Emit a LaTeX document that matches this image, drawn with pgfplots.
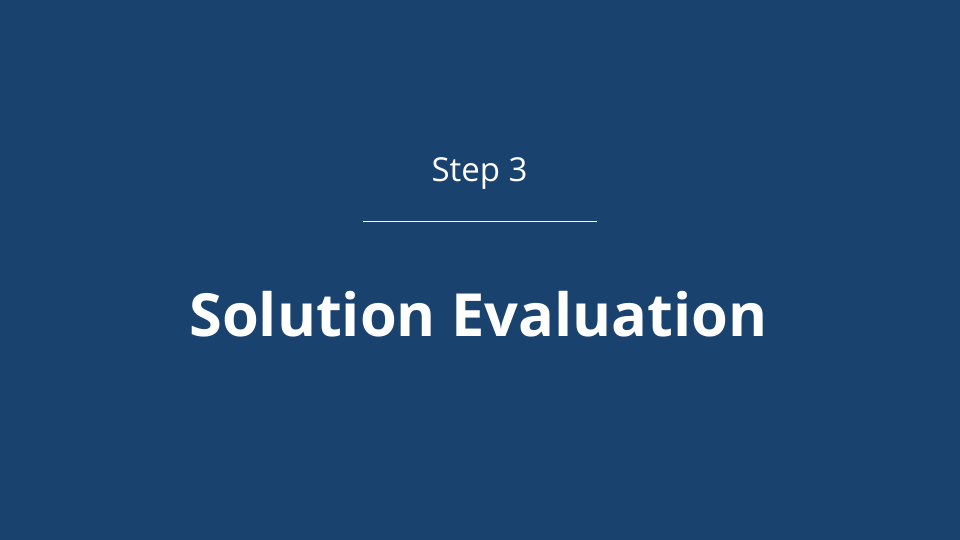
\documentclass[border=0pt]{standalone}
\usepackage{fontspec}
\setmainfont{Open Sans}
\usepackage{pgfplots}
\pgfplotsset{compat=1.18}
\definecolor{bg}{HTML}{1A426E}
\begin{document}
\begin{tikzpicture}
\fill[bg] (0,0) rectangle (960pt,540pt);
\begin{axis}[
  at={(0,0)}, anchor=south west,
  scale only axis, width=960pt, height=540pt,
  xmin=0, xmax=960, ymin=0, ymax=540,
  axis lines=none, ticks=none,
  clip=false,
]
\addplot[white, line width=1pt, mark=none] coordinates {(363,318) (597,318)};
\node[anchor=base, text=white, inner sep=0pt, font=\fontsize{33}{40}\selectfont] at (axis cs:479.5,358) {Step 3};
\node[anchor=base, text=white, inner sep=0pt, font=\fontsize{59.5}{70}\selectfont\bfseries] at (axis cs:478.5,203) {Solution Evaluation};
\end{axis}
\end{tikzpicture}
\end{document}
